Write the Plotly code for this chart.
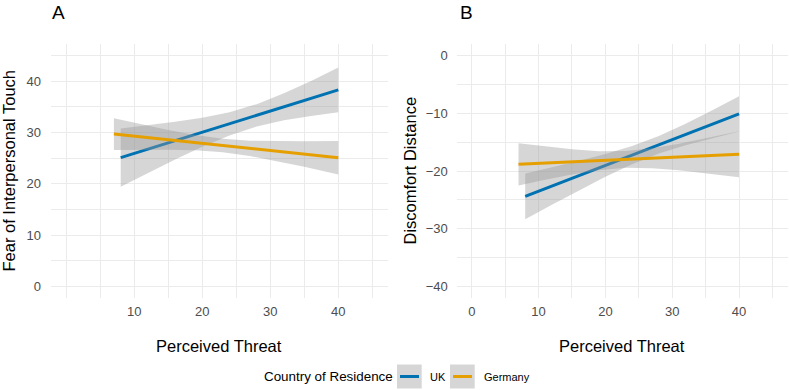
import plotly.graph_objects as go

# ---------------- data ----------------
countries = ["UK", "Germany"]
colors = {"UK": "#0072B2", "Germany": "#E69F00"}

# Panel A: Fear of Interpersonal Touch vs Perceived Threat
a_uk_x = [8, 12, 16, 20, 24, 28, 32, 36, 40]
a_uk_fit = [25.1, 26.75, 28.4, 30.05, 31.7, 33.35, 35.0, 36.65, 38.3]
a_uk_hi = [30.77, 31.40, 32.08, 32.89, 33.96, 35.53, 37.63, 40.06, 42.65]
a_uk_lo = [19.43, 22.10, 24.72, 27.21, 29.44, 31.17, 32.37, 33.24, 33.95]

a_de_x = [7, 11, 15, 19, 23, 27, 31, 35, 40]
a_de_fit = [29.7, 29.14, 28.58, 28.03, 27.47, 26.91, 26.35, 25.80, 25.1]
a_de_hi = [32.8, 31.62, 30.50, 29.51, 28.77, 28.39, 28.27, 28.28, 28.37]
a_de_lo = [26.6, 26.66, 26.66, 26.55, 26.17, 25.43, 24.43, 23.32, 21.83]

# Panel B: Discomfort Distance vs Perceived Threat
b_uk_x = [8, 12, 16, 20, 24, 28, 32, 36, 40]
b_uk_fit = [-24.4, -22.61, -20.82, -19.04, -17.25, -15.46, -13.67, -11.88, -10.1]
b_uk_hi = [-20.45, -19.38, -18.26, -17.07, -15.67, -13.93, -11.82, -9.48, -7.04]
b_uk_lo = [-28.35, -25.84, -23.38, -21.01, -18.83, -16.99, -15.52, -14.28, -13.16]

b_de_x = [7, 11, 15, 19, 23, 27, 31, 35, 40]
b_de_fit = [-18.85, -18.64, -18.43, -18.21, -18.0, -17.79, -17.58, -17.36, -17.1]
b_de_hi = [-15.2, -15.76, -16.25, -16.57, -16.55, -16.06, -15.27, -14.33, -13.1]
b_de_lo = [-22.5, -21.52, -20.61, -19.85, -19.45, -19.52, -19.89, -20.39, -21.1]

a_xticks = [10, 20, 30, 40]
a_xminor = [0, 5, 15, 25, 35, 45]
a_yticks = [0, 10, 20, 30, 40]
a_yminor = [5, 15, 25, 35, 45]
b_xticks = [0, 10, 20, 30, 40]
b_xminor = [5, 15, 25, 35, 45]
b_yticks = [-40, -30, -20, -10, 0]
b_yminor = [-35, -25, -15, -5]

x_title = "Perceived Threat"
a_ytitle = "Fear of Interpersonal Touch"
b_ytitle = "Discomfort Distance"
legend_title = "Country of Residence"
panel_labels = ["A", "B"]

# ---------------- layout helpers ----------------
W, H = 789, 390
FONT = "Arial, Liberation Sans, sans-serif"
BAND = "rgba(153,153,153,0.4)"
GRID = "#ebebeb"


def px(x):
    return x / W


def py(y):
    return 1 - y / H


fig = go.Figure()

panels = [
    ("x", "y", [(a_uk_x, a_uk_fit, a_uk_hi, a_uk_lo, "UK"),
                (a_de_x, a_de_fit, a_de_hi, a_de_lo, "Germany")]),
    ("x2", "y2", [(b_uk_x, b_uk_fit, b_uk_hi, b_uk_lo, "UK"),
                  (b_de_x, b_de_fit, b_de_hi, b_de_lo, "Germany")]),
]

for xa, ya, series in panels:
    for xs, fit, hi, lo, name in series:
        fig.add_trace(go.Scatter(
            x=xs + xs[::-1], y=hi + lo[::-1], fill="toself",
            fillcolor=BAND, line=dict(width=0), mode="lines",
            hoverinfo="skip", showlegend=False, xaxis=xa, yaxis=ya))
        fig.add_trace(go.Scatter(
            x=xs, y=fit, mode="lines", name=name,
            line=dict(color=colors[name], width=3),
            showlegend=False, xaxis=xa, yaxis=ya))

ydom = [py(298), py(44)]
axis_common = dict(showline=False, zeroline=False, ticks="", gridcolor=GRID,
                   gridwidth=1.1, tickfont=dict(family=FONT, size=13, color="#4d4d4d"))

fig.update_layout(
    width=W, height=H, margin=dict(l=0, r=0, t=0, b=0),
    paper_bgcolor="white", plot_bgcolor="white",
    font=dict(family=FONT),
    xaxis=dict(domain=[px(51), px(387.6)], range=[-2.25, 47.25], tickvals=a_xticks,
               minor=dict(tickvals=a_xminor, showgrid=True, gridcolor=GRID, gridwidth=0.8),
               anchor="y", ticklabelstandoff=4, **axis_common),
    yaxis=dict(domain=ydom, range=[-2.25, 47.25], tickvals=a_yticks,
               minor=dict(tickvals=a_yminor, showgrid=True, gridcolor=GRID, gridwidth=0.8),
               anchor="x", ticklabelstandoff=9, **axis_common),
    xaxis2=dict(domain=[px(456.7), px(787.5)], range=[-2.25, 47.25], tickvals=b_xticks,
                minor=dict(tickvals=b_xminor, showgrid=True, gridcolor=GRID, gridwidth=0.8),
                anchor="y2", ticklabelstandoff=4, **axis_common),
    yaxis2=dict(domain=ydom, range=[-42, 2], tickvals=b_yticks,
                minor=dict(tickvals=b_yminor, showgrid=True, gridcolor=GRID, gridwidth=0.8),
                anchor="x2", ticklabelstandoff=8, **axis_common),
)

ann = []
# panel labels
ann.append(dict(text=panel_labels[0], x=px(50), y=py(12), xanchor="left", yanchor="middle",
                font=dict(family=FONT, size=19, color="black")))
ann.append(dict(text=panel_labels[1], x=px(458), y=py(12), xanchor="left", yanchor="middle",
                font=dict(family=FONT, size=19, color="black")))
# axis titles
for cx in (219.3, 622.1):
    ann.append(dict(text=x_title, x=px(cx), y=py(346), xanchor="center", yanchor="middle",
                    font=dict(family=FONT, size=16.5, color="black")))
ann.append(dict(text=a_ytitle, x=px(8.5), y=py(171), textangle=-90, xanchor="center",
                yanchor="middle", font=dict(family=FONT, size=16.5, color="black")))
ann.append(dict(text=b_ytitle, x=px(409.5), y=py(171), textangle=-90, xanchor="center",
                yanchor="middle", font=dict(family=FONT, size=16.5, color="black")))

# legend (drawn manually to reproduce ggplot keys)
ann.append(dict(text=legend_title, x=px(261.7), y=py(376.7), xanchor="left", yanchor="middle",
                font=dict(family=FONT, size=13.4, color="black")))
shapes = []
key_lefts = [397, 450]
label_lefts = [428, 481.7]
for name, kl, ll in zip(countries, key_lefts, label_lefts):
    shapes.append(dict(type="rect", xref="paper", yref="paper", x0=px(kl), x1=px(kl + 24.7),
                       y0=py(388.5), y1=py(364.5), fillcolor="#d6d6d6", line=dict(width=0)))
    shapes.append(dict(type="line", xref="paper", yref="paper", x0=px(kl + 3), x1=px(kl + 22),
                       y0=py(376.5), y1=py(376.5), line=dict(color=colors[name], width=3)))
    ann.append(dict(text=name, x=px(ll), y=py(376.7), xanchor="left", yanchor="middle",
                    font=dict(family=FONT, size=11, color="black")))

for a in ann:
    a.update(xref="paper", yref="paper", showarrow=False)

fig.update_layout(annotations=ann, shapes=shapes)
fig.write_html("out.html", config={"displayModeBar": False},
               post_script="document.body.style.margin='0px';document.body.style.overflow='hidden';")
